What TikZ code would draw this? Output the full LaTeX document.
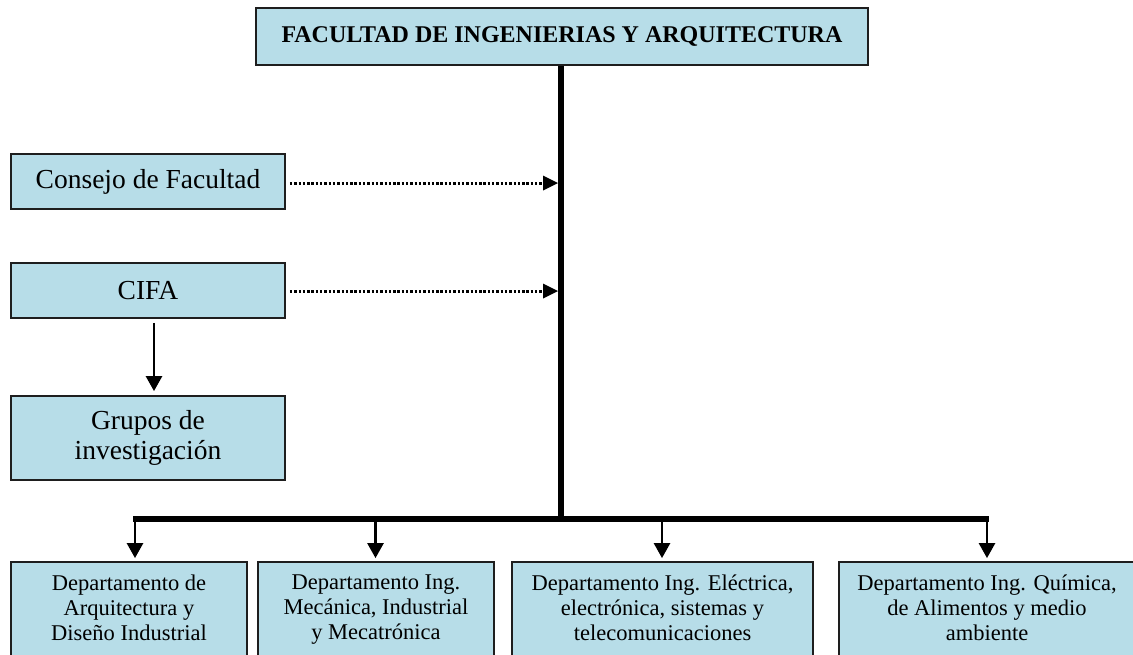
\documentclass[tikz,border=0pt]{standalone}
\usepackage{fontspec}
\setmainfont{Liberation Serif}
\usetikzlibrary{arrows.meta}
\definecolor{boxblue}{HTML}{B7DDE8}
\definecolor{boxline}{HTML}{1E1E1E}
\tikzset{
  unit/.style={draw=boxline, line width=1.8pt, fill=boxblue, align=center, inner sep=0pt},
  topbox/.style={unit, font=\fontsize{24}{28}\selectfont\bfseries},
  sidebox/.style={unit, font=\fontsize{27.5}{30}\selectfont},
  deptbox/.style={unit, font=\fontsize{22.5}{25}\selectfont,
    execute at begin node={\rule{0pt}{21pt}}, execute at end node={\strut}},
  thick line/.style={line width=6pt},
  arr/.style={line width=2.6pt, -{Triangle[length=15pt,width=16pt]}},
  dotarr/.style={line width=3pt, dash pattern=on 2.4pt off 1.9pt, -{Triangle[length=15pt,width=15pt,line width=0pt]}}
}
\begin{document}
\begin{tikzpicture}[x=1pt,y=1pt]
\useasboundingbox (0,0) rectangle (1133,-654);
\clip (0,0) rectangle (1133,-654);
\node[topbox, minimum width=612pt, minimum height=57pt] (top) at (562,-36.5) {FACULTAD DE INGENIERIAS Y ARQUITECTURA};
\node[sidebox, minimum width=274pt, minimum height=55pt] (consejo) at (148,-181.5) {Consejo de Facultad};
\node[sidebox, minimum width=274pt, minimum height=55pt] (cifa) at (148,-290.5) {CIFA};
\node[sidebox, minimum width=274pt, minimum height=84pt] (grupos) at (148,-438) {Grupos de\\investigación};
\node[deptbox, minimum width=236pt, minimum height=98pt] (d1) at (129,-611) {Departamento de\\Arquitectura y\\Diseño Industrial};
\node[deptbox, minimum width=236pt, minimum height=98pt] (d2) at (376,-611) {Departamento Ing.\\Mecánica, Industrial\\y Mecatrónica};
\node[deptbox, minimum width=301pt, minimum height=98pt] (d3) at (662.5,-611) {Departamento Ing. Eléctrica,\\electrónica, sistemas y\\telecomunicaciones};
\node[deptbox, minimum width=296pt, minimum height=98pt] (d4) at (987,-611) {Departamento Ing. Química,\\de Alimentos y medio\\ambiente};
% trunk and bar
\coordinate (j) at (561,-519);
\coordinate (bl) at (133,-519);
\coordinate (br) at (988.5,-519);
\coordinate (a1) at (135,-519);
\coordinate (a2) at (375.5,-519);
\coordinate (a3) at (662,-519);
\coordinate (a4) at (987,-519);
\draw[thick line] (top.south -| j) -- ([yshift=-3pt]j);
\draw[thick line] (bl) -- (br);
\foreach \a/\d in {a1/d1,a2/d2,a3/d3,a4/d4}{
  \draw[arr] (\a) -- ([yshift=3pt]\a |- \d.north);
}
% dotted arrows
\coordinate (c1) at (558,-183);
\coordinate (c2) at (558,-291);
\draw[dotarr] ([xshift=4pt]consejo.east |- c1) -- (c1);
\draw[dotarr] ([xshift=4pt]cifa.east |- c2) -- (c2);
% CIFA to grupos
\draw[arr] ([xshift=6pt,yshift=-4pt]cifa.south) -- ([xshift=6pt,yshift=4pt]grupos.north);
\end{tikzpicture}
\end{document}
